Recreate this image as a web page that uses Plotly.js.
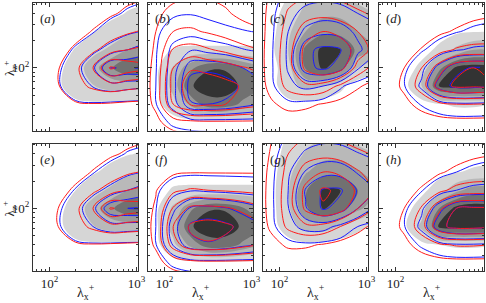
<!DOCTYPE html>
<html><head><meta charset="utf-8">
<script src="https://cdn.plot.ly/plotly-3.0.1.min.js"></script>
<style>html,body{margin:0;padding:0;background:#fff}#chart{width:486px;height:303px}</style>
</head><body><div id="chart"></div>
<script>
// grid nodes: log10(lambda_x+) and log10(lambda_z+) (rows listed top to bottom)
const LX = [1.7, 1.9, 2.1, 2.3, 2.5, 2.7, 2.9, 3.1];
const LY = [2.8, 2.6, 2.4, 2.2, 2.0, 1.8, 1.6, 1.4, 1.2];
const Z0 = [0,0,0,0,0,0,0,0];

const grayA = [[0,0,0,0,0,0.1,0.4,0.6],[0,0,0,0,0.1,0.6,1.1,1.4],[0,0,0,0.3,0.9,1.6,2.5,3.2],[0,0,0.3,1.1,2.3,3.4,5,6],[0,0,0.6,1.9,4.2,6.6,9.1,9],[0,0,0.7,2,2.9,3.8,3.5,3.2],[0,0,0.2,0.6,0.7,0.5,0.5,0.4],Z0,Z0];
const blueA = [[0,0,0,0,0,0.1,0.5,0.7],[0,0,0,0,0.1,0.7,1.2,1.5],[0,0,0,0.3,0.9,1.7,2.6,3.2],[0,0,0.3,1.2,2.5,3.8,5,6],[0,0,0.7,2.2,4.6,9.1,8.8,9.3],[0,0,0.8,2.2,3.1,4,3.6,3.3],[0,0,0.2,0.7,0.8,0.6,0.5,0.4],Z0,Z0];
const redA = [[0,0,0,0,0,0.2,0.6,0.8],[0,0,0,0,0.3,0.8,1.3,1.6],[0,0,0,0.4,1.1,1.9,2.7,3.3],[0,0,0.4,1.3,2.6,4,5,5.5],[0,0,0.9,2.5,5,9.3,8.2,7.5],[0,0,0.9,2.3,3.4,4,3.6,3.3],[0,0,0.3,0.8,0.9,0.8,0.6,0.5],Z0,Z0];

const grayB = [Z0,Z0,[0,0,0.2,0.3,0.3,0.3,0.3,0.3],[0,0.3,1.1,1.2,1.2,1.2,1.2,1.2],[0,0.5,3.2,6.5,8.8,8.8,7,5.5],[0,0.5,3.8,8.8,10,10,8.6,7.5],[0,0.4,2.2,5.5,8.2,8.2,6.5,5],[0,0,0.2,0.2,0.2,0.2,0.2,0.2],Z0];
const blueB = [Z0,[0,0.1,0.7,0.9,0.6,0.3,0.1,0],[0,0.6,2,2.3,1.8,1.4,1.1,0.9],[0,0.8,3.6,4.8,4.3,3.8,3.1,2.6],[0,0.9,4,8.3,8.6,8.2,7,6],[0,1,4.2,10,10.2,9.8,8.7,7.5],[0,0.9,3.8,8.8,9,8.7,7.8,7],[0,0.3,1.3,1.8,2,2,2,2],Z0];
const redB = [[0,0.2,0.5,0.8,0.8,0.6,0.3,0.1],[0,0.6,1.6,1.9,1.7,1.2,0.6,0.3],[0,1,3,3.3,2.8,2.2,1.6,1.2],[0,1.2,5.2,5.8,5.2,4.5,3.6,3],[0,1.4,7,8.8,8.5,8,7.2,6.5],[0,1.5,7.9,10,10,9.6,8.8,8],[0,1.3,7,9.2,9.3,9,8.2,7.5],[0,0.6,1.8,2.4,2.6,2.6,2.6,2.6],Z0];

const grayC = [[0,0,1,2.5,3,3,2.5,2.2],[0,0,2,3.5,4.5,4.5,3.5,3],[0,0.3,2.6,5,6.5,6.3,5,4],[0,0.5,3,7.5,9.5,9.1,6.5,5],[0,0.2,2.2,7.2,9.3,8,3,1.5],[0,0.2,2.3,3.5,3,1.5,0,0],[0,0,0.4,0.4,0.2,0,0,0],Z0,Z0];
const blueC = [[0,0.3,1.5,2.2,2.4,2.2,1.8,1.5],[0,0.5,2.4,3.6,4,3.8,3,2.5],[0,0.6,3,5.5,6.5,6,4.5,3.5],[0,0.7,3.3,8.5,9.5,9.2,5.5,3.5],[0,0.7,3.2,8.3,9.5,8,3.2,1.5],[0,0.6,2.5,3.5,3,1.2,0.2,0],[0,0.2,0.6,0.5,0.2,0,0,0],Z0,Z0];
const redC = [[0,1.2,2.4,2.8,2.8,2.5,2,1.6],[0,1.4,3.2,4.2,4.4,4,3.3,2.7],[0,1.5,3.8,6,7,6.4,5,3.8],[0,1.6,4.2,7.6,8.8,8.2,6.2,4.2],[0,1.6,4.2,7.4,8.8,7.8,4.2,2.2],[0,1.4,3.6,4.6,4.2,2.6,1.2,0.4],[0,0.8,1.4,1.3,0.9,0.4,0,0],[0,0.2,0.3,0.2,0,0,0,0],Z0];

const grayD = [Z0,[0,0,0,0,0,0,0,0.3],[0,0,0,0,0.2,0.6,0.9,1],[0,0,0,0.3,1.4,3.5,5,5],[0,0,0.1,1.5,6.5,9.4,9.8,9.6],[0,0,0.4,3,9.3,10,10,9.6],[0,0,0,0.3,0.9,1.2,1.2,1],Z0,Z0];
const blueD = [Z0,[0,0,0,0,0,0,0.3,0.5],[0,0,0,0,0.4,0.9,1.3,1.5],[0,0,0.1,0.8,1.8,2.8,3.3,3.4],[0,0,0.6,2.4,5.8,8.5,9.2,9],[0,0,0.9,3.4,8,9.6,9.6,9.2],[0,0,0.3,1.1,2,2.6,2.6,2.4],[0,0,0,0,0.1,0.2,0.2,0.2],Z0];
const redD = [Z0,[0,0,0,0,0,0.2,0.6,0.8],[0,0,0,0.2,0.7,1.2,1.6,1.7],[0,0,0.3,1.1,2.2,3.2,3.6,3.6],[0,0,1,3,6,8.5,9,8.8],[0,0.2,1.3,4,8,9.4,9.3,9],[0,0,0.6,1.5,2.5,3,3,2.8],[0,0,0,0.2,0.3,0.4,0.4,0.4],Z0];

const grayE = [[0,0,0,0,0,0.1,0.3,0.5],[0,0,0,0,0.1,0.5,0.9,1.2],[0,0,0,0.2,0.8,1.5,2.4,3],[0,0,0.2,1,2.2,3.4,5,6],[0,0,0.5,1.9,4,6.5,8.7,9.2],[0,0,0.6,1.9,2.9,3.8,3.8,3.6],[0,0,0.2,0.6,0.7,0.6,0.6,0.6],Z0,Z0];
const blueE = [[0,0,0,0,0,0.1,0.4,0.6],[0,0,0,0,0.1,0.6,1.1,1.3],[0,0,0,0.2,0.9,1.6,2.5,3.1],[0,0,0.3,1.1,2.4,3.6,5,6],[0,0,0.7,2.1,4.4,8.5,9,9.2],[0,0,0.8,2.1,3,4,3.9,3.7],[0,0,0.2,0.7,0.8,0.7,0.6,0.6],Z0,Z0];
const redE = [[0,0,0,0,0,0.2,0.5,0.7],[0,0,0,0,0.3,0.8,1.2,1.5],[0,0,0,0.4,1.1,1.8,2.7,3.2],[0,0,0.4,1.3,2.6,3.9,5,5.6],[0,0,1,2.5,5,9.2,8.3,7.8],[0,0,1,2.3,3.4,4.2,4,3.8],[0,0,0.3,0.8,0.9,0.8,0.7,0.6],Z0,Z0];

const grayF = [Z0,Z0,[0,0,0.2,0.3,0.3,0.3,0.3,0.3],[0,0.3,1.2,1.3,1.3,1.3,1.3,1.3],[0,0.6,3.4,6.6,8.8,8.8,7.2,5.6],[0,0.6,3.9,8.8,10,10,8.7,7.6],[0,0.5,2.5,5.6,8.2,8.2,6.6,5.2],[0,0,0.4,0.5,0.5,0.5,0.5,0.5],Z0];
const blueF = [Z0,Z0,[0,0.1,0.4,0.6,0.6,0.6,0.6,0.6],[0,0.6,2.2,2.8,2.6,2.4,2.2,2],[0,0.9,4.5,7.3,7.6,7.2,6.3,5.3],[0,1,6.2,9.4,10,9.5,8.4,7.3],[0,0.9,5.2,8.4,8.8,8.4,7.5,6.6],[0,0.3,1.3,1.9,2.1,2.1,2.1,2.1],Z0];
const redF = [Z0,[0,0,0.1,0.2,0.2,0.2,0.2,0.2],[0,0.3,0.7,0.9,0.9,0.9,0.9,0.9],[0,0.9,2.6,3.2,3,2.8,2.6,2.4],[0,1.2,5.2,7.5,7.6,7.3,6.5,5.5],[0,1.4,7,9.3,9.8,9.4,8.5,7.5],[0,1.2,6,8.5,8.8,8.5,7.7,7],[0,0.5,1.6,2.2,2.4,2.4,2.4,2.4],Z0];

const grayG = [[0,0,1.2,2.2,2.8,2.8,2.4,2.1],[0,0,1.8,3.2,4.2,4.3,3.5,3],[0,0.2,2.4,4.8,6.2,6.3,5.2,4.2],[0,0.3,2.8,6.8,9.3,9,7,5.5],[0,0.3,2.6,6.6,9.2,8,5.5,3.8],[0,0.2,2,3.8,4,2.8,1.5,0.8],[0,0,0.3,0.6,0.5,0.2,0,0],Z0,Z0];
const blueG = [[0,0.1,1.2,2,2.3,2.2,1.8,1.5],[0,0.3,2,3.3,3.9,3.8,3.1,2.6],[0,0.5,2.7,5.2,6.3,6.2,4.8,3.8],[0,0.6,3,7.2,9.2,9.3,6.8,4.6],[0,0.6,2.9,6.8,9.3,8.2,5,2.8],[0,0.5,2.3,3.7,3.8,2.4,1,0.4],[0,0.1,0.5,0.7,0.5,0.2,0,0],Z0,Z0];
const redG = [[0,0.9,2.3,2.8,2.8,2.5,2,1.6],[0,1.1,3,4.1,4.4,4.1,3.4,2.8],[0,1.3,3.6,5.9,7,6.6,5.2,4],[0,1.4,4,7.6,9.3,8.6,6.6,4.6],[0,1.4,4,7.4,8.8,8,5,3],[0,1.2,3.4,4.6,4.4,3,1.5,0.6],[0,0.6,1.2,1.2,0.9,0.4,0.1,0],[0,0.1,0.2,0.1,0,0,0,0],Z0];

const grayH = [Z0,[0,0,0,0,0,0,0.2,0.4],[0,0,0,0,0.4,0.9,1.3,1.4],[0,0,0,0.5,2,4.5,6,6],[0,0,0.2,2,7,9.6,10,9.8],[0,0,0.6,3.5,9.4,10,10,9.8],[0,0,0,0.5,1,1.2,1.2,1.1],Z0,Z0];
const blueH = [Z0,[0,0,0,0,0,0.1,0.4,0.6],[0,0,0,0,0.5,1,1.4,1.6],[0,0,0.1,0.9,2,3,3.6,3.7],[0,0,0.6,2.6,6.2,9,9.4,9.2],[0,0,0.9,3.6,8.4,9.7,9.7,9.4],[0,0,0.3,1.2,2.2,2.8,2.8,2.6],[0,0,0,0,0.1,0.2,0.2,0.2],Z0];
const redH = [Z0,[0,0,0,0,0,0.3,0.7,0.9],[0,0,0,0.2,0.8,1.4,1.8,1.9],[0,0,0.3,1.2,2.5,3.6,4,4],[0,0,1,3.2,6.5,9,9.3,9.2],[0,0.2,1.3,4.2,8.5,9.6,9.6,9.3],[0,0,0.6,1.6,2.7,3.2,3.2,3],[0,0,0,0.2,0.3,0.4,0.4,0.4],Z0];

const panelLabels = ['a','b','c','d','e','f','g','h'];
const grayGrids = [grayA, grayB, grayC, grayD, grayE, grayF, grayG, grayH];
const blueGrids = [blueA, blueB, blueC, blueD, blueE, blueF, blueG, blueH];
const redGrids  = [redA, redB, redC, redD, redE, redF, redG, redH];
const xTickVals = [100, 1000];
const yTickVals = [100];
const xMinorVals = [60,70,80,90,200,300,400,500,600,700,800,900];
const yMinorVals = [20,30,40,50,60,70,80,90,200,300,400,500];

const grayShades = ['rgba(255,255,255,0)','#d6d6d6','#b9b9b9','#999999','#717171','#333333'];
const grayScale = [];
grayShades.forEach((c,i)=>{
  const a = Math.max(0, i*0.2-0.1), b = Math.min(1, i*0.2+0.1);
  grayScale.push([a,c]); grayScale.push([b,c]);
});

const W = 486, H = 303;
const lefts = [33, 148, 263, 379], pw = 105;
const tops = [3, 143.5], ph = 127.5;
const FONT = '"Liberation Serif", "Times New Roman", serif';
const levels = {start:1, end:9, size:2};
const yRev = LY.slice().reverse();

const traces = [];
const layout = {
  width: W, height: H, margin:{l:0,r:0,t:0,b:0},
  paper_bgcolor:'#fff', plot_bgcolor:'#fff', showlegend:false,
  font:{family:FONT, size:12, color:'#222'},
  annotations: []
};
const tickFmt = v => '10<sup>' + Math.round(Math.log10(v)) + '</sup>';

for (let i = 0; i < 8; i++) {
  const row = i < 4 ? 0 : 1, col = i % 4;
  const xa = 'x' + (i ? i+1 : ''), ya = 'y' + (i ? i+1 : '');
  const common = {xaxis: xa, yaxis: ya, x: LX, y: yRev, hoverinfo:'skip', showscale:false};
  traces.push(Object.assign({}, common, {type:'contour', z: grayGrids[i].slice().reverse(),
    contours: Object.assign({coloring:'fill', showlines:false}, levels),
    colorscale: grayScale, line:{width:0, smoothing:1}}));
  traces.push(Object.assign({}, common, {type:'contour', z: blueGrids[i].slice().reverse(),
    contours: Object.assign({coloring:'none'}, levels), line:{color:'#1a1aff', width:1, smoothing:1}}));
  traces.push(Object.assign({}, common, {type:'contour', z: redGrids[i].slice().reverse(),
    contours: Object.assign({coloring:'none'}, levels), line:{color:'#ff1a1a', width:1, smoothing:1}}));

  const axBase = {showline:true, linecolor:'#333', linewidth:1, mirror:'allticks', ticks:'inside',
    ticklen:4, tickwidth:1, tickcolor:'#333', showgrid:false, zeroline:false, fixedrange:true,
    tickfont:{family:FONT, size:13, color:'#222'}};
  layout['xaxis' + (i ? i+1 : '')] = Object.assign({}, axBase, {
    domain:[lefts[col]/W, (lefts[col]+pw)/W], anchor: ya, range:[1.81, 3.017],
    tickmode:'array', tickvals: xTickVals.map(Math.log10), ticktext: xTickVals.map(tickFmt),
    showticklabels: row === 1,
    minor:{tickmode:'array', tickvals: xMinorVals.map(Math.log10), ticks:'inside', ticklen:2, tickcolor:'#333', tickwidth:1}
  });
  layout['yaxis' + (i ? i+1 : '')] = Object.assign({}, axBase, {
    domain:[1-(tops[row]+ph)/H, 1-tops[row]/H], anchor: xa, range:[1.31, 2.715],
    tickmode:'array', tickvals: yTickVals.map(Math.log10), ticktext: yTickVals.map(tickFmt),
    showticklabels: col === 0,
    minor:{tickmode:'array', tickvals: yMinorVals.map(Math.log10), ticks:'inside', ticklen:2, tickcolor:'#333', tickwidth:1}
  });
  layout.annotations.push({xref: xa + ' domain', yref: ya + ' domain', x: 0.05, y: 0.95,
    xanchor:'left', yanchor:'top', showarrow:false, text:'(<i>' + panelLabels[i] + '</i>)',
    font:{family:FONT, size:13, color:'#222'}});
  if (row === 1) {
    layout.annotations.push({xref:'paper', yref:'paper', x:(lefts[col]+pw/2)/W, y:1-292/H,
      xanchor:'center', yanchor:'middle', showarrow:false, text:'λ<sub>x</sub><sup>+</sup>',
      font:{family:FONT, size:14, color:'#222'}});
  }
  if (col === 0) {
    layout.annotations.push({xref:'paper', yref:'paper', x:10/W, y:1-(tops[row]+65)/H,
      xanchor:'center', yanchor:'middle', showarrow:false, textangle:-90, text:'λ<sub>z</sub><sup>+</sup>',
      font:{family:FONT, size:13, color:'#222'}});
  }
}
Plotly.newPlot('chart', traces, layout, {staticPlot:true, displayModeBar:false});
</script></body></html>
